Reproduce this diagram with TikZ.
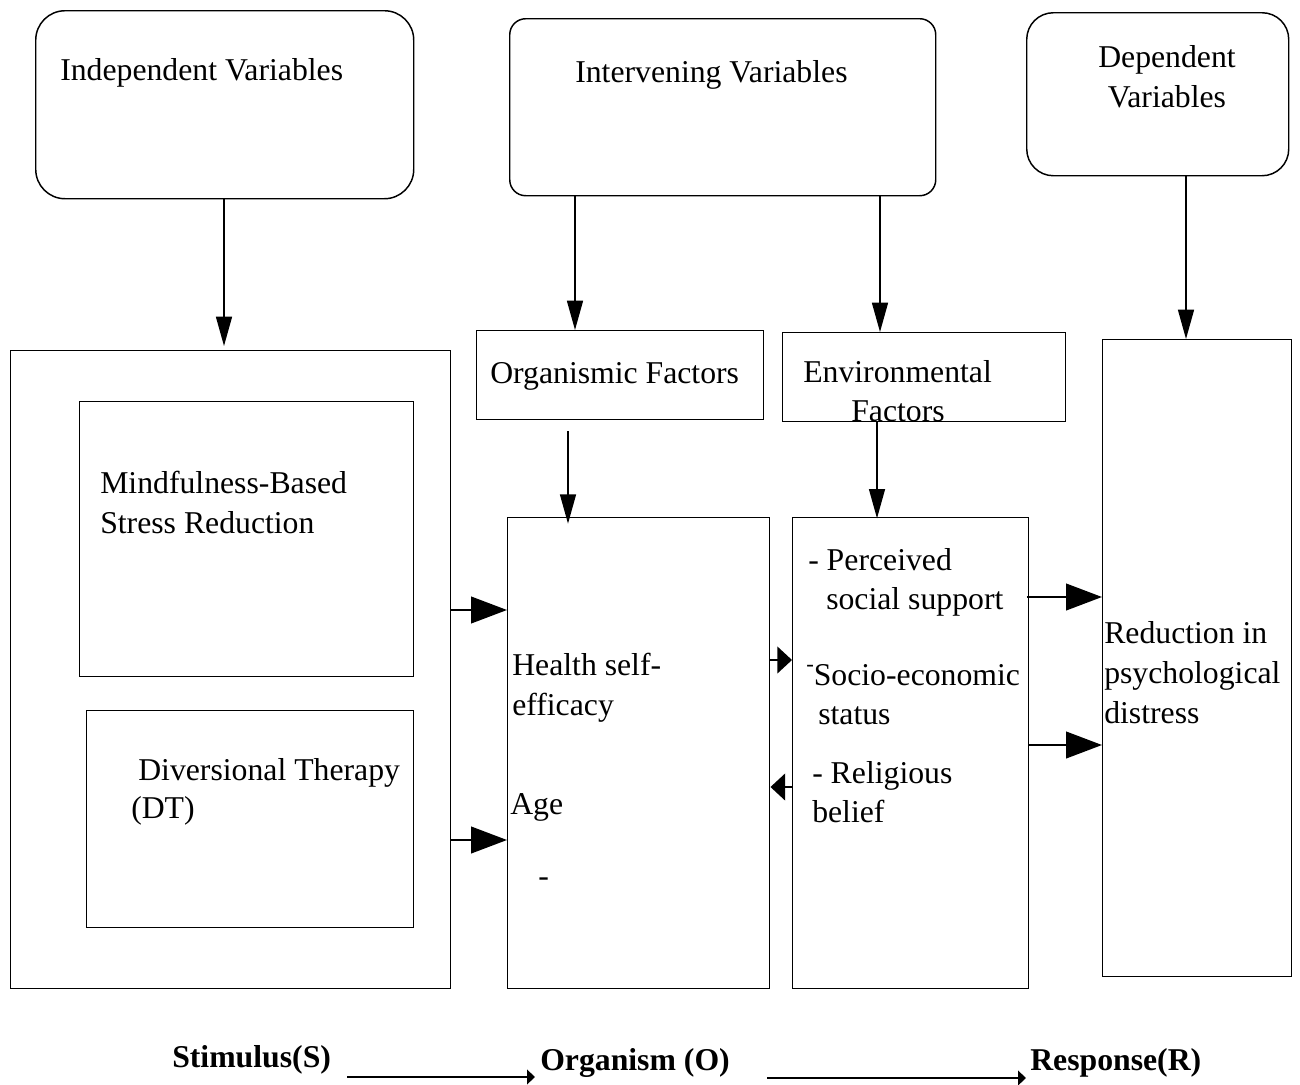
\documentclass[tikz,border=0pt]{standalone}
\usepackage{fontspec}
\setmainfont{Liberation Serif}
\usetikzlibrary{arrows.meta}
\begin{document}
\begin{tikzpicture}[x=0.75pt,y=-0.75pt,
  box/.style={draw, line width=1.1pt, inner sep=0pt, anchor=north west},
  txt/.style={anchor=base west, inner sep=0pt, font=\fontsize{23.8}{30}\selectfont},
  btxt/.style={anchor=base west, inner sep=0pt, font=\fontsize{23.8}{30}\selectfont\bfseries},
  varr/.style={line width=1.1pt, -{Triangle[length=22pt,width=12pt]}},
  harr/.style={line width=1.6pt, -{Triangle[length=27pt,width=20pt]}},
  sarr/.style={line width=1.6pt, -{Triangle[length=11pt,width=20pt]}},
  barr/.style={line width=1.4pt, -{Triangle[length=6pt,width=11pt]}}]
\useasboundingbox (0,0) rectangle (1300,1085);
% boxes
\node[box, rounded corners=22pt, minimum width=378*0.75pt, minimum height=188*0.75pt] (ind) at (35,10) {};
\node[box, rounded corners=12pt, minimum width=426*0.75pt, minimum height=177*0.75pt] (int) at (509,18) {};
\node[box, rounded corners=20pt, minimum width=262*0.75pt, minimum height=163*0.75pt] (dep) at (1026,12) {};
\node[box, minimum width=440*0.75pt, minimum height=638*0.75pt] (big) at (10,350) {};
\node[box, minimum width=334*0.75pt, minimum height=275*0.75pt] (mbsr) at (79,401) {};
\node[box, minimum width=327*0.75pt, minimum height=217*0.75pt] (dt) at (86,710) {};
\node[box, minimum width=287*0.75pt, minimum height=89*0.75pt] (org) at (476,330) {};
\node[box, minimum width=283*0.75pt, minimum height=89*0.75pt] (env) at (782,332) {};
\node[box, minimum width=262*0.75pt, minimum height=471*0.75pt] (hea) at (507,517) {};
\node[box, minimum width=236*0.75pt, minimum height=471*0.75pt] (envl) at (792,517) {};
\node[box, minimum width=189*0.75pt, minimum height=637*0.75pt] (res) at (1102,339) {};
% texts
\node[txt] (t1) at (60,80) {Independent Variables};
\node[txt] (t2) at (575,82) {Intervening Variables};
\node[txt, anchor=base] (t3) at (1167,67) {Dependent};
\node[txt, anchor=base] (t4) at (1167,107) {Variables};
\node[txt] (t5) at (490,383) {Organismic Factors};
\node[txt] (t6) at (803,382) {Environmental};
\node[txt] (t7) at (851,421) {Factors};
\node[txt] (t8) at (100,493) {Mindfulness-Based};
\node[txt] (t9) at (100,533) {Stress Reduction};
\node[txt] (t10) at (138,780) {Diversional Therapy};
\node[txt] (t11) at (131,818) {(DT)};
\node[txt] (t12) at (512,675) {Health self-};
\node[txt] (t13) at (512,715) {efficacy};
\node[txt] (t14) at (510,814) {Age};
\node[txt] (t15) at (538,886) {-};
\node[txt] (t16) at (808,570) {- Perceived};
\node[txt] (t17) at (826,609) {social support};
\node[txt] (t18) at (806,685) {{\fontsize{17}{17}\selectfont\raisebox{10pt}{-}}Socio-economic};
\node[txt] (t19) at (818,724) {status};
\node[txt] (t20) at (812,783) {- Religious};
\node[txt] (t21) at (812,822) {belief};
\node[txt] (t22) at (1104,643) {Reduction in};
\node[txt] (t23) at (1104,683) {psychological};
\node[txt] (t24) at (1104,723) {distress};
\node[btxt] (stim) at (172,1067) {Stimulus(S)};
\node[btxt] (orgn) at (540,1070) {Organism (O)};
\node[btxt] (resp) at (1030,1070) {Response(R)};
% helper coordinates
\coordinate (x1) at (224,0);
\coordinate (x2) at (575,0);
\coordinate (x3) at (880,0);
\coordinate (x4) at (1186,0);
\coordinate (x5) at (568,0);
\coordinate (x6) at (877,0);
\coordinate (y1) at (0,610);
\coordinate (y2) at (0,840);
\coordinate (y3) at (0,660);
\coordinate (y4) at (0,787);
\coordinate (y5) at (0,597);
\coordinate (y6) at (0,745);
\coordinate (b1) at (347,1077);
\coordinate (b2) at (535,1077);
\coordinate (b3) at (767,1078);
\coordinate (b4) at (1026,1078);
% vertical arrows
\draw[varr, shorten >=3pt] (ind.south -| x1) -- (big.north -| x1);
\draw[varr] (int.south -| x2) -- (org.north -| x2);
\draw[varr] (int.south -| x3) -- (env.north -| x3);
\draw[varr] (dep.south -| x4) -- (res.north -| x4);
\draw[varr, shorten <=8pt, shorten >=-5pt] (org.south -| x5) -- (hea.north -| x5);
\draw[varr, shorten >=-1pt] (env.south -| x6) -- (envl.north -| x6);
% horizontal arrows
\draw[harr] (big.east |- y1) -- (hea.west |- y1);
\draw[harr] (big.east |- y2) -- (hea.west |- y2);
\draw[sarr] (hea.east |- y3) -- (envl.west |- y3);
\draw[sarr] (envl.west |- y4) -- (hea.east |- y4);
\draw[harr, shorten <=-2pt] (envl.east |- y5) -- (res.west |- y5);
\draw[harr] (envl.east |- y6) -- (res.west |- y6);
% bottom arrows
\draw[barr] (b1) -- (b2);
\draw[barr] (b3) -- (b4);
\end{tikzpicture}
\end{document}
